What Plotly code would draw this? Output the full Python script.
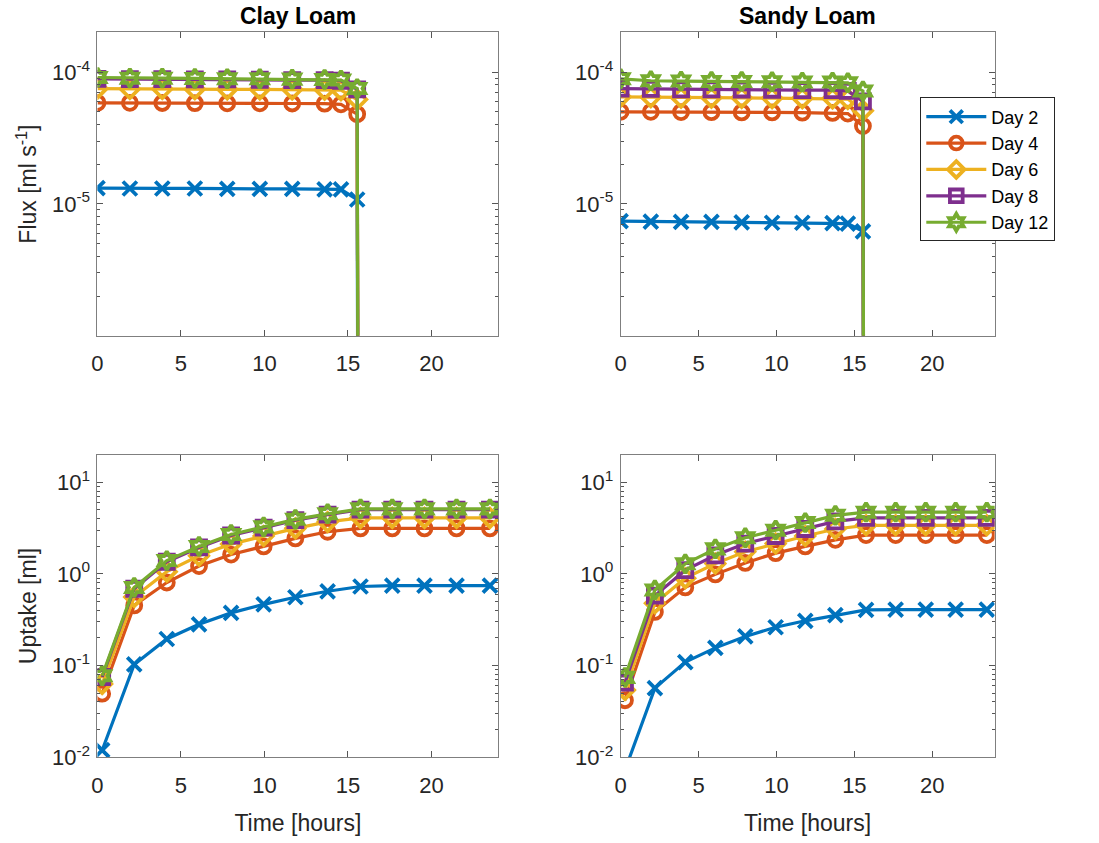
import plotly.graph_objects as go

# ---------------- data ----------------
days = ["Day 2", "Day 4", "Day 6", "Day 8", "Day 12"]
colors = ["#0072BD", "#D95319", "#EDB120", "#7E2F8E", "#77AC30"]
symbols = ["x-thin", "circle-open", "diamond-open", "square-open", "hexagram-open"]

# flux time points (hours); last point is the drop to ~zero (no marker)
flux_t = [0.0, 1.94, 3.88, 5.83, 7.77, 9.72, 11.66, 13.6, 14.58, 15.55, 15.62]
flux_clay = [
    [1.32e-5, 1.31e-5, 1.31e-5, 1.31e-5, 1.30e-5, 1.30e-5, 1.30e-5, 1.29e-5, 1.29e-5, 1.08e-5, 1e-8],
    [5.85e-5, 5.85e-5, 5.83e-5, 5.82e-5, 5.80e-5, 5.80e-5, 5.78e-5, 5.76e-5, 5.70e-5, 4.8e-5, 1e-8],
    [7.5e-5, 7.45e-5, 7.45e-5, 7.43e-5, 7.4e-5, 7.4e-5, 7.38e-5, 7.35e-5, 7.3e-5, 6.2e-5, 1e-8],
    [8.9e-5, 8.85e-5, 8.85e-5, 8.8e-5, 8.8e-5, 8.75e-5, 8.7e-5, 8.7e-5, 8.6e-5, 7.4e-5, 1e-8],
    [9.1e-5, 9.0e-5, 9.0e-5, 8.95e-5, 8.9e-5, 8.9e-5, 8.85e-5, 8.8e-5, 8.7e-5, 7.5e-5, 1e-8],
]
flux_sandy = [
    [7.4e-6, 7.35e-6, 7.3e-6, 7.3e-6, 7.25e-6, 7.2e-6, 7.2e-6, 7.15e-6, 7.1e-6, 6.2e-6, 1e-8],
    [5.0e-5, 5.0e-5, 4.98e-5, 4.97e-5, 4.95e-5, 4.95e-5, 4.93e-5, 4.9e-5, 4.85e-5, 3.9e-5, 1e-8],
    [6.5e-5, 6.45e-5, 6.4e-5, 6.4e-5, 6.38e-5, 6.35e-5, 6.33e-5, 6.3e-5, 6.25e-5, 5.1e-5, 1e-8],
    [7.5e-5, 7.45e-5, 7.4e-5, 7.4e-5, 7.38e-5, 7.35e-5, 7.3e-5, 7.3e-5, 7.2e-5, 6.0e-5, 1e-8],
    [8.9e-5, 8.6e-5, 8.55e-5, 8.5e-5, 8.5e-5, 8.45e-5, 8.4e-5, 8.4e-5, 8.3e-5, 7.2e-5, 1e-8],
]

# uptake time points (hours)
up_t = [0.28, 2.2, 4.15, 6.08, 8.0, 9.95, 11.85, 13.78, 15.75, 17.65, 19.58, 21.5, 23.5]
up_clay = [
    [0.0119, 0.103, 0.195, 0.282, 0.376, 0.466, 0.557, 0.647, 0.73, 0.745, 0.745, 0.745, 0.745],
    [0.0493, 0.454, 0.807, 1.22, 1.63, 2.0, 2.45, 2.89, 3.15, 3.15, 3.15, 3.15, 3.15],
    [0.063, 0.56, 1.06, 1.58, 2.12, 2.6, 3.15, 3.7, 4.1, 4.1, 4.1, 4.1, 4.1],
    [0.075, 0.69, 1.36, 1.95, 2.63, 3.2, 3.87, 4.45, 5.05, 5.05, 5.05, 5.05, 5.05],
    [0.0774, 0.713, 1.40, 2.0, 2.70, 3.27, 3.95, 4.54, 5.14, 5.14, 5.14, 5.14, 5.14],
]
up_sandy = [
    [0.0072, 0.0567, 0.109, 0.156, 0.208, 0.262, 0.308, 0.355, 0.405, 0.408, 0.408, 0.408, 0.408],
    [0.0418, 0.385, 0.714, 0.99, 1.32, 1.69, 2.0, 2.36, 2.66, 2.66, 2.66, 2.66, 2.66],
    [0.054, 0.48, 0.9, 1.3, 1.75, 2.15, 2.6, 3.1, 3.4, 3.4, 3.4, 3.4, 3.4],
    [0.065, 0.58, 1.1, 1.6, 2.15, 2.6, 3.1, 3.75, 4.1, 4.1, 4.1, 4.1, 4.1],
    [0.0743, 0.668, 1.29, 1.88, 2.49, 3.01, 3.64, 4.37, 4.73, 4.73, 4.73, 4.73, 4.73],
]

x_ticks = [0, 5, 10, 15, 20]
flux_ticks = [1e-5, 1e-4]
flux_ticklabels = ["10<sup>-5</sup>", "10<sup>-4</sup>"]
up_ticks = [1e-2, 1e-1, 1e0, 1e1]
up_ticklabels = ["10<sup>-2</sup>", "10<sup>-1</sup>", "10<sup>0</sup>", "10<sup>1</sup>"]

# ---------------- figure ----------------
fig = go.Figure()
FONT = "Liberation Sans, Arial, sans-serif"
AX = "#262626"
MSIZE = 14
MLW = 3.8

panels = [
    ("x", "y", flux_t, flux_clay, True),
    ("x2", "y2", flux_t, flux_sandy, True),
    ("x3", "y3", up_t, up_clay, False),
    ("x4", "y4", up_t, up_sandy, False),
]
for pi, (xa, ya, t, series, is_flux) in enumerate(panels):
    for i, vals in enumerate(series):
        sizes = [MSIZE] * len(vals)
        if is_flux:
            sizes[-1] = 0
        fig.add_trace(go.Scatter(
            x=t, y=vals, xaxis=xa, yaxis=ya,
            mode="lines+markers", name=days[i],
            showlegend=(pi == 1),
            legendrank=i,
            line=dict(color=colors[i], width=3.2),
            marker=dict(symbol=symbols[i], size=sizes, color=colors[i], opacity=1,
                        line=dict(color=colors[i], width=MLW)),
            cliponaxis=True,
        ))

doms_x = [[0.0837, 0.4504], [0.5623, 0.9045], [0.0837, 0.4504], [0.5623, 0.9045]]
doms_y = [[0.5955, 0.9609], [0.5955, 0.9609], [0.0878, 0.4520], [0.0878, 0.4520]]

common_axis = dict(
    showline=True, linecolor="#7f7f7f", linewidth=1, mirror="ticks",
    ticks="inside", ticklen=6, tickcolor="#555555", tickwidth=1,
    showgrid=False, zeroline=False,
    tickfont=dict(family=FONT, size=22, color=AX),
)

layout = dict(
    width=1099, height=843,
    margin=dict(l=0, r=0, t=0, b=0),
    plot_bgcolor="white", paper_bgcolor="white",
    font=dict(family=FONT, color=AX),
    legend=dict(
        x=0.8365, y=0.8826, xanchor="left", yanchor="top",
        bordercolor="#262626", borderwidth=1, bgcolor="white",
        font=dict(family=FONT, size=18, color="black"),
        tracegroupgap=0, itemwidth=60,
    ),
)
for k in range(4):
    sx = "xaxis" if k == 0 else f"xaxis{k+1}"
    sy = "yaxis" if k == 0 else f"yaxis{k+1}"
    ya = "y" if k == 0 else f"y{k+1}"
    xa = "x" if k == 0 else f"x{k+1}"
    xd = dict(common_axis, domain=doms_x[k], range=[0, 24],
              tickmode="array", tickvals=x_ticks, anchor=ya, ticklabelstandoff=8)
    if k >= 2:
        xd["title"] = dict(text="Time [hours]", font=dict(family=FONT, size=23, color=AX), standoff=18)
    layout[sx] = xd
    if k < 2:
        yd = dict(common_axis, type="log", domain=doms_y[k], range=[-6, -3.699],
                  tickmode="array", tickvals=flux_ticks, ticktext=flux_ticklabels,
                  anchor=xa, ticklabelstandoff=2)
        if k == 0:
            yd["title"] = dict(text="Flux [ml s<sup>-1</sup>]", font=dict(family=FONT, size=23, color=AX), standoff=8)
    else:
        yd = dict(common_axis, type="log", domain=doms_y[k], range=[-2, 1.301],
                  tickmode="array", tickvals=up_ticks, ticktext=up_ticklabels,
                  anchor=xa, ticklabelstandoff=2)
        if k == 2:
            yd["title"] = dict(text="Uptake [ml]", font=dict(family=FONT, size=23, color=AX), standoff=8)
    yd["minor"] = dict(ticks="inside", ticklen=3, tickcolor="#555555", dtick="D1", showgrid=False)
    layout[sy] = yd

fig.update_layout(**layout)

# subplot titles
fig.add_annotation(text="<b>Clay Loam</b>", x=(0.0837 + 0.4504) / 2, y=0.9609, xref="paper", yref="paper",
                   xanchor="center", yanchor="bottom", showarrow=False, yshift=1,
                   font=dict(family=FONT, size=23, color="black"))
fig.add_annotation(text="<b>Sandy Loam</b>", x=(0.5623 + 0.9045) / 2, y=0.9609, xref="paper", yref="paper",
                   xanchor="center", yanchor="bottom", showarrow=False, yshift=1,
                   font=dict(family=FONT, size=23, color="black"))

fig.write_html("out.html")
